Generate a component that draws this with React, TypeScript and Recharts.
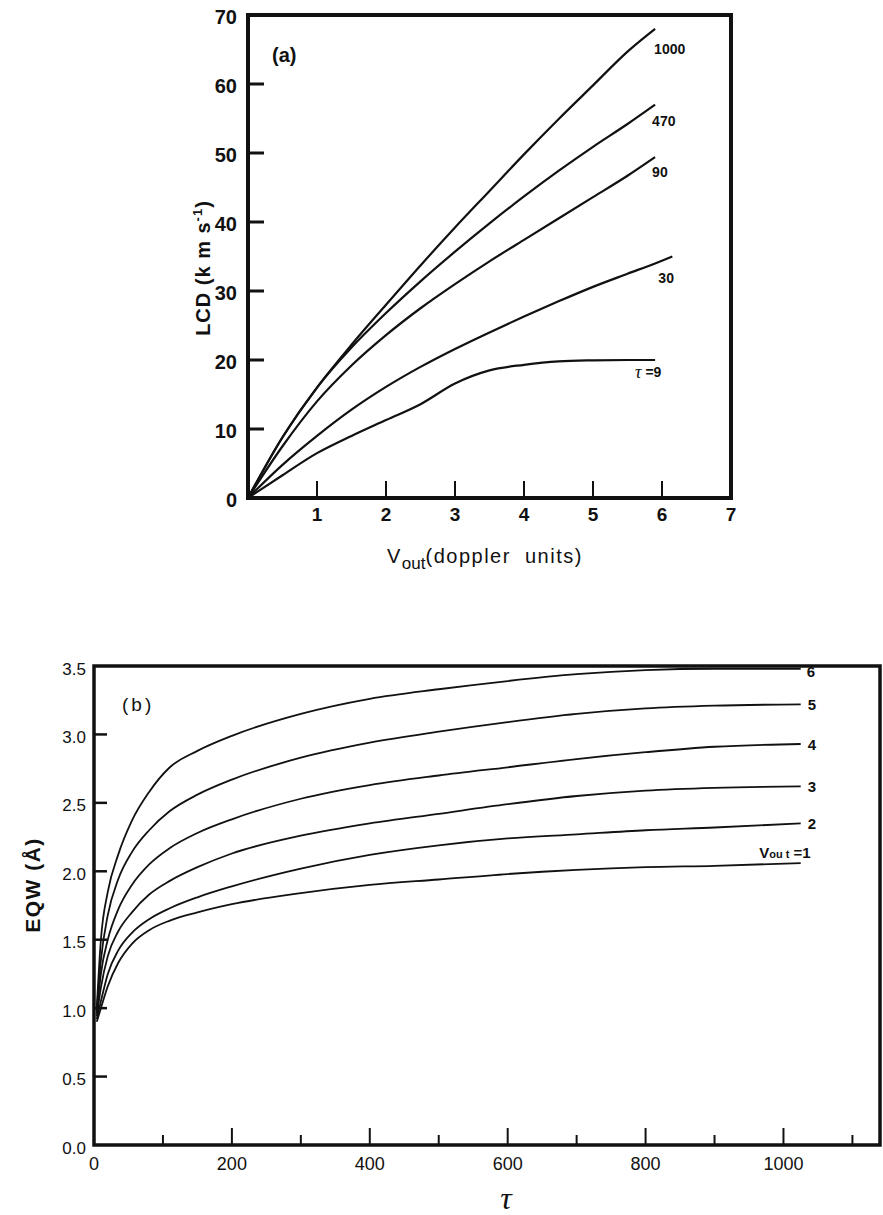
import React from "react";
import { LineChart, Line, XAxis, YAxis, ReferenceArea } from "recharts";

const SANS = '"Liberation Sans", Arial, sans-serif';
const SERIF = '"Liberation Serif", "DejaVu Serif", serif';
const INK = "#111";

// ---- (a) line centre displacement vs outflow velocity ----
const V_OUT = [0, 0.5, 1, 1.5, 2, 2.5, 3, 3.5, 4, 4.5, 5, 5.5, 5.9, 6.15];
const LCD_TAU_1000 = [0, 8.8, 16, 22.2, 28, 33.7, 39.2, 44.5, 49.8, 54.9, 59.8, 64.7, 68, null];
const LCD_TAU_470 = [0, 8.8, 16, 21.8, 26.8, 31.4, 35.7, 39.8, 43.7, 47.4, 50.9, 54.2, 57, null];
const LCD_TAU_90 = [0, 7.5, 14, 19.2, 23.6, 27.5, 31, 34.3, 37.4, 40.5, 43.6, 46.7, 49.4, null];
const LCD_TAU_30 = [0, 4.8, 9, 12.8, 16.1, 19, 21.6, 24, 26.3, 28.5, 30.6, 32.5, 34, 35];
const LCD_TAU_9 = [0, 3.3, 6.5, 9, 11.3, 13.6, 16.6, 18.5, 19.3, 19.8, 19.95, 20, 20, null];
const V_TICKS = [1, 2, 3, 4, 5, 6, 7];
const LCD_TICKS = [0, 10, 20, 30, 40, 50, 60, 70];

// ---- (b) equivalent width vs optical depth ----
const TAU = [4, 10, 20, 35, 55, 80, 110, 150, 200, 300, 400, 500, 600, 700, 800, 900, 1025];
const EQW_V6 = [1.0, 1.5, 1.85, 2.12, 2.37, 2.58, 2.76, 2.88, 2.99, 3.15, 3.26, 3.33, 3.39, 3.44, 3.47, 3.48, 3.48];
const EQW_V5 = [0.98, 1.35, 1.68, 1.94, 2.14, 2.3, 2.44, 2.56, 2.67, 2.83, 2.94, 3.02, 3.09, 3.15, 3.19, 3.21, 3.22];
const EQW_V4 = [0.96, 1.25, 1.5, 1.72, 1.9, 2.05, 2.17, 2.28, 2.38, 2.53, 2.63, 2.7, 2.76, 2.82, 2.87, 2.91, 2.93];
const EQW_V3 = [0.94, 1.15, 1.38, 1.56, 1.7, 1.83, 1.93, 2.03, 2.13, 2.26, 2.35, 2.42, 2.49, 2.55, 2.59, 2.61, 2.62];
const EQW_V2 = [0.92, 1.05, 1.25, 1.42, 1.55, 1.65, 1.73, 1.81, 1.89, 2.02, 2.12, 2.19, 2.24, 2.27, 2.3, 2.32, 2.35];
const EQW_V1 = [0.9, 1.0, 1.16, 1.33, 1.47, 1.57, 1.64, 1.7, 1.76, 1.84, 1.9, 1.94, 1.98, 2.01, 2.03, 2.04, 2.06];
const TAU_TICKS = [0, 100, 200, 300, 400, 500, 600, 700, 800, 900, 1000, 1100];
const EQW_TICKS = [0, 0.5, 1, 1.5, 2, 2.5, 3, 3.5];

const lcdData = V_OUT.map((v, i) => ({
  v,
  t1000: LCD_TAU_1000[i],
  t470: LCD_TAU_470[i],
  t90: LCD_TAU_90[i],
  t30: LCD_TAU_30[i],
  t9: LCD_TAU_9[i],
}));

const eqwData = TAU.map((t, i) => ({
  t,
  v6: EQW_V6[i],
  v5: EQW_V5[i],
  v4: EQW_V4[i],
  v3: EQW_V3[i],
  v2: EQW_V2[i],
  v1: EQW_V1[i],
}));

const lastIndex = (arr: (number | null)[]) => {
  let k = arr.length - 1;
  while (k > 0 && arr[k] == null) k--;
  return k;
};

// text placed next to the final point of a curve
function endLabel(end: number, dx: number, dy: number, text: React.ReactNode, size: number, anchor = "start") {
  return (props: any) => {
    if (props.index !== end) return null;
    const x = props.x ?? props.viewBox?.x;
    const y = props.y ?? props.viewBox?.y;
    if (x == null || y == null) return null;
    return (
      <text
        x={x + dx}
        y={y + dy}
        textAnchor={anchor}
        dominantBaseline="central"
        fontFamily={SANS}
        fontWeight="bold"
        fontSize={size}
        fill={INK}
      >
        {text}
      </text>
    );
  };
}

const tauGlyph = <tspan fontFamily={SERIF} fontStyle="italic" fontWeight="normal" fontSize={18}>τ</tspan>;

const LCD_SERIES = [
  { key: "t1000", end: lastIndex(LCD_TAU_1000), dx: -1, dy: 20, text: "1000" },
  { key: "t470", end: lastIndex(LCD_TAU_470), dx: -3, dy: 16, text: "470" },
  { key: "t90", end: lastIndex(LCD_TAU_90), dx: -3, dy: 15, text: "90" },
  { key: "t30", end: lastIndex(LCD_TAU_30), dx: -14, dy: 21, text: "30" },
  { key: "t9", end: lastIndex(LCD_TAU_9), dx: -20, dy: 12, text: <>{tauGlyph} =9</> },
];

const EQW_SERIES = [
  { key: "v6", end: lastIndex(EQW_V6), dx: 6, dy: 3, text: "6", anchor: "start" },
  { key: "v5", end: lastIndex(EQW_V5), dx: 7, dy: 0, text: "5", anchor: "start" },
  { key: "v4", end: lastIndex(EQW_V4), dx: 7, dy: 0, text: "4", anchor: "start" },
  { key: "v3", end: lastIndex(EQW_V3), dx: 7, dy: 0, text: "3", anchor: "start" },
  { key: "v2", end: lastIndex(EQW_V2), dx: 7, dy: 0, text: "2", anchor: "start" },
  {
    key: "v1",
    end: lastIndex(EQW_V1),
    dx: 10,
    dy: -11,
    text: (
      <>
        V<tspan fontSize={11} dy={2}>ou t</tspan>
        <tspan dy={-2}> =1</tspan>
      </>
    ),
    anchor: "end",
  },
];

// axis ticks point into the plot, labels sit outside
function bottomTick(opts: { len: (v: number) => number; label: (v: number) => string | null; gap: number; size: number; weight: string }) {
  return (p: any) => {
    const v = p.payload.value;
    const len = opts.len(v);
    const lab = opts.label(v);
    return (
      <g>
        {len > 0 && <line x1={p.x} x2={p.x} y1={p.y} y2={p.y - len} stroke={INK} strokeWidth={2} />}
        {lab != null && (
          <text x={p.x} y={p.y + opts.gap} textAnchor="middle" dominantBaseline="central"
            fontFamily={SANS} fontSize={opts.size} fontWeight={opts.weight} fill={INK}>
            {lab}
          </text>
        )}
      </g>
    );
  };
}

function leftTick(opts: { len: (v: number) => number; label: (v: number) => string; gap: number; dy: number; size: number; weight: string; width: number }) {
  return (p: any) => {
    const v = p.payload.value;
    const len = opts.len(v);
    return (
      <g>
        {len > 0 && <line x1={p.x} x2={p.x + len} y1={p.y} y2={p.y} stroke={INK} strokeWidth={opts.width} />}
        <text x={p.x - opts.gap} y={p.y + opts.dy} textAnchor="end" dominantBaseline="central"
          fontFamily={SANS} fontSize={opts.size} fontWeight={opts.weight} fill={INK}>
          {opts.label(v)}
        </text>
      </g>
    );
  };
}

function PanelA() {
  return (
    <LineChart
      width={883}
      height={600}
      data={lcdData}
      margin={{ top: 15, left: 247, right: 152, bottom: 101 }}
    >
      <XAxis
        dataKey="v"
        type="number"
        domain={[0, 7]}
        ticks={V_TICKS}
        interval={0}
        height={1}
        tickSize={0}
        tickMargin={0}
        axisLine={false}
        tickLine={false}
        tick={bottomTick({ len: (v) => (v < 7 ? 17 : 0), label: (v) => String(v), gap: 16, size: 19, weight: "bold" })}
      />
      <YAxis
        type="number"
        domain={[0, 70]}
        ticks={LCD_TICKS}
        interval={0}
        width={1}
        tickSize={0}
        tickMargin={0}
        axisLine={false}
        tickLine={false}
        tick={leftTick({ len: (v) => (v > 0 && v < 70 ? 16 : 0), label: (v) => String(v), gap: 11, dy: 2, size: 20, weight: "bold", width: 3 })}
      />
      <ReferenceArea x1={0} x2={7} y1={0} y2={70} fill="none" stroke={INK} strokeWidth={4} />
      {LCD_SERIES.map((s) => (
        <Line
          key={s.key}
          dataKey={s.key}
          type="monotone"
          stroke={INK}
          strokeWidth={2.2}
          dot={false}
          activeDot={false}
          isAnimationActive={false}
          label={endLabel(s.end, s.dx, s.dy, s.text, 14)}
        />
      ))}
    </LineChart>
  );
}

function PanelB() {
  return (
    <LineChart
      width={883}
      height={615}
      data={eqwData}
      margin={{ top: 66, left: 93, right: 3, bottom: 69 }}
    >
      <XAxis
        dataKey="t"
        type="number"
        domain={[0, 1140]}
        ticks={TAU_TICKS}
        interval={0}
        height={1}
        tickSize={0}
        tickMargin={0}
        axisLine={false}
        tickLine={false}
        tick={bottomTick({
          len: (v) => (v === 0 ? 0 : v % 200 === 0 ? 17 : 10),
          label: (v) => (v % 200 === 0 ? String(v) : null),
          gap: 19,
          size: 18,
          weight: "normal",
        })}
      />
      <YAxis
        type="number"
        domain={[0, 3.5]}
        ticks={EQW_TICKS}
        interval={0}
        width={1}
        tickSize={0}
        tickMargin={0}
        axisLine={false}
        tickLine={false}
        tick={leftTick({ len: (v) => (v > 0 && v < 3.5 ? 13 : 0), label: (v) => v.toFixed(1), gap: 8, dy: 3, size: 17, weight: "normal", width: 2.5 })}
      />
      <ReferenceArea x1={0} x2={1140} y1={0} y2={3.5} fill="none" stroke={INK} strokeWidth={3.5} />
      {EQW_SERIES.map((s) => (
        <Line
          key={s.key}
          dataKey={s.key}
          type="monotone"
          stroke={INK}
          strokeWidth={1.8}
          dot={false}
          activeDot={false}
          isAnimationActive={false}
          label={endLabel(s.end, s.dx, s.dy, s.text, 15, s.anchor)}
        />
      ))}
    </LineChart>
  );
}

const abs = (left: number, top: number, extra: React.CSSProperties = {}): React.CSSProperties => ({
  position: "absolute",
  left,
  top,
  whiteSpace: "nowrap",
  lineHeight: 1,
  color: INK,
  fontFamily: SANS,
  ...extra,
});

export default function App() {
  return (
    <div style={{ position: "absolute", left: 0, top: 0, width: 883, height: 1215, background: "#fff", overflow: "hidden" }}>
      <div style={{ position: "absolute", left: 0, top: 0 }}>
        <PanelA />
      </div>
      <div style={{ position: "absolute", left: 0, top: 600 }}>
        <PanelB />
      </div>

      <div style={abs(272, 45, { fontSize: 20, fontWeight: "bold" })}>(a)</div>
      <div style={abs(202, 268, { fontSize: 20, fontWeight: "bold", letterSpacing: 1, transform: "translate(-50%, -50%) rotate(-90deg)" })}>
        LCD (k m s<sup style={{ fontSize: 13 }}>-1</sup>)
      </div>
      <div style={abs(387, 546, { fontSize: 20, letterSpacing: 1.5 })}>
        V<sub style={{ fontSize: 17, verticalAlign: -6, letterSpacing: 0 }}>out</sub>(doppler&nbsp; units)
      </div>

      <div style={abs(122, 695, { fontSize: 19, letterSpacing: 3 })}>(b)</div>
      <div style={abs(32, 885, { fontSize: 21, fontWeight: "bold", letterSpacing: 1.5, transform: "translate(-50%, -50%) rotate(-90deg)" })}>
        EQW (Å)
      </div>
      <div style={abs(506, 1198, { fontSize: 32, fontFamily: SERIF, fontStyle: "italic", transform: "translate(-50%, -50%)" })}>
        τ
      </div>
    </div>
  );
}
